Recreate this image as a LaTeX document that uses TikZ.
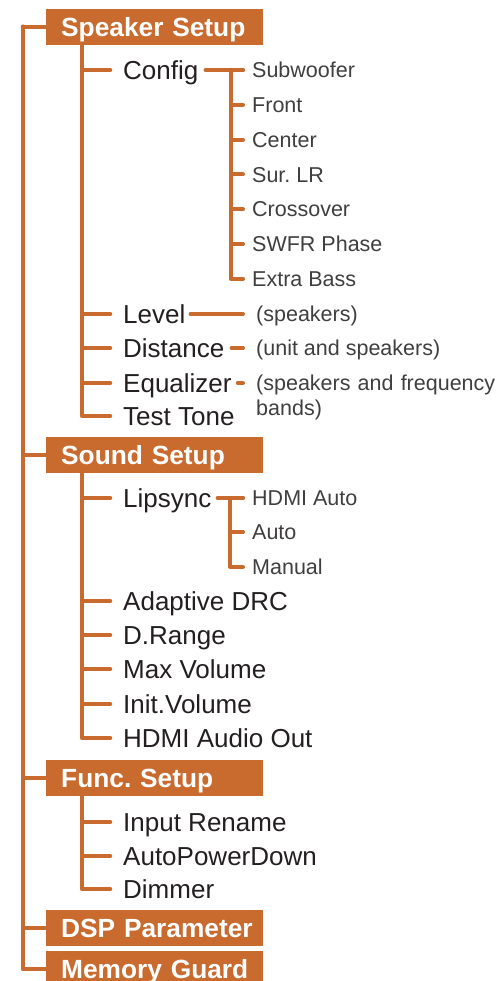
\documentclass[tikz,border=0pt]{standalone}
\usepackage{fontspec}
\setmainfont{Liberation Sans}
\usepackage{tikz}
\usetikzlibrary{calc, positioning}
\usepackage{xcolor}
\definecolor{menuOrange}{RGB}{201, 106, 47}
\definecolor{menuInk}{RGB}{35, 31, 32}
\definecolor{menuGrey}{RGB}{64, 62, 62}
\frenchspacing

\tikzset{
  heading/.style={fill=menuOrange, text=white, anchor=west, inner xsep=15pt, inner ysep=0pt,
    text width=187pt, align=left, minimum height=36pt, text height=19pt, text depth=0pt,
    font=\fontsize{26.3}{30}\selectfont\bfseries},
  item/.style={anchor=west, inner sep=0pt, text=menuInk, text height=18.8pt, text depth=0pt,
    font=\fontsize{26}{30}\selectfont},
  leaf/.style={anchor=west, inner sep=0pt, text=menuGrey, text height=15.4pt, text depth=0pt,
    font=\fontsize{21.5}{25}\selectfont},
  branch/.style={draw=menuOrange, line width=4.6pt, line cap=round, line join=round},
  twig/.style={branch, line width=4pt}
}

\begin{document}
\begin{tikzpicture}[x=1pt, y=-1pt]
  \useasboundingbox (0, 0) rectangle (497, 981);
  % Headings
  \foreach \y/\n/\txt in {27/speaker/Speaker Setup, 455/sound/Sound Setup, 778/func/Func. Setup,
      928/dsp/DSP Parameter, 969/memory/Memory Guard}
    \node[heading] (\n) at (46, \y) {\mbox{\txt}};
  % Trunk
  \coordinate (trunk) at (23, 27);
  \foreach \h in {speaker, sound, func, dsp, memory}
    \draw[branch] (trunk) |- (\h.west);
  % Speaker Setup
  \coordinate (spkV) at ([xshift=36pt]speaker.south west);
  \foreach \y/\n/\txt in {70/config/Config, 314/level/Level, 348/distance/Distance,
      383/equalizer/Equalizer, 416/testtone/Test Tone} {
    \node[item] (\n) at (123, \y) {\txt};
    \draw[branch, shorten >=13pt] (spkV) |- (\n);
  }
  \coordinate (cfgV) at (231, 70);
  \foreach \y/\txt [count=\i] in {70/Subwoofer, 104.8/Front, 139.6/Center, 174.4/Sur. LR,
      209.2/Crossover, 244/SWFR Phase, 278.8/Extra Bass} {
    \node[leaf] (c\i) at (252, \y) {\txt};
    \draw[twig, shorten >=9pt] (cfgV) |- (c\i);
  }
  \draw[twig, shorten <=7pt, shorten >=9pt] (config) -- (c1);
  \node[leaf] (levelNote) at (256, 314) {(speakers)};
  \node[leaf] (distNote) at (256, 348) {(unit and speakers)};
  \node[leaf, text width=241pt, align=left] (eqNote) at (256, 383) {(speakers and frequency\\bands)};
  \draw[twig, shorten <=5pt, shorten >=13pt] (level) -- (levelNote);
  \draw[twig, shorten <=7pt, shorten >=13pt] (distance) -- (distNote);
  \draw[twig, shorten <=6pt, shorten >=13pt] (equalizer) -- (eqNote);
  % Sound Setup
  \coordinate (sndV) at ([xshift=36pt]sound.south west);
  \foreach \y/\n/\txt in {498/lipsync/Lipsync, 601/adrc/Adaptive DRC, 635/drange/D.Range,
      669/maxvol/Max Volume, 704/initvol/Init.Volume, 738/hdmiout/HDMI Audio Out} {
    \node[item] (\n) at (123, \y) {\txt};
    \draw[branch, shorten >=13pt] (sndV) |- (\n);
  }
  \coordinate (lipV) at (230, 498);
  \foreach \y/\txt [count=\i] in {498/HDMI Auto, 532/Auto, 567/Manual} {
    \node[leaf] (l\i) at (252, \y) {\txt};
    \draw[twig, shorten >=9pt] (lipV) |- (l\i);
  }
  \draw[twig, shorten <=6pt, shorten >=9pt] (lipsync) -- (l1);
  % Func. Setup
  \coordinate (fncV) at ([xshift=36pt]func.south west);
  \foreach \y/\n/\txt in {822/rename/Input Rename, 856/apd/AutoPowerDown, 889/dimmer/Dimmer} {
    \node[item] (\n) at (123, \y) {\txt};
    \draw[branch, shorten >=13pt] (fncV) |- (\n);
  }
\end{tikzpicture}
\end{document}
